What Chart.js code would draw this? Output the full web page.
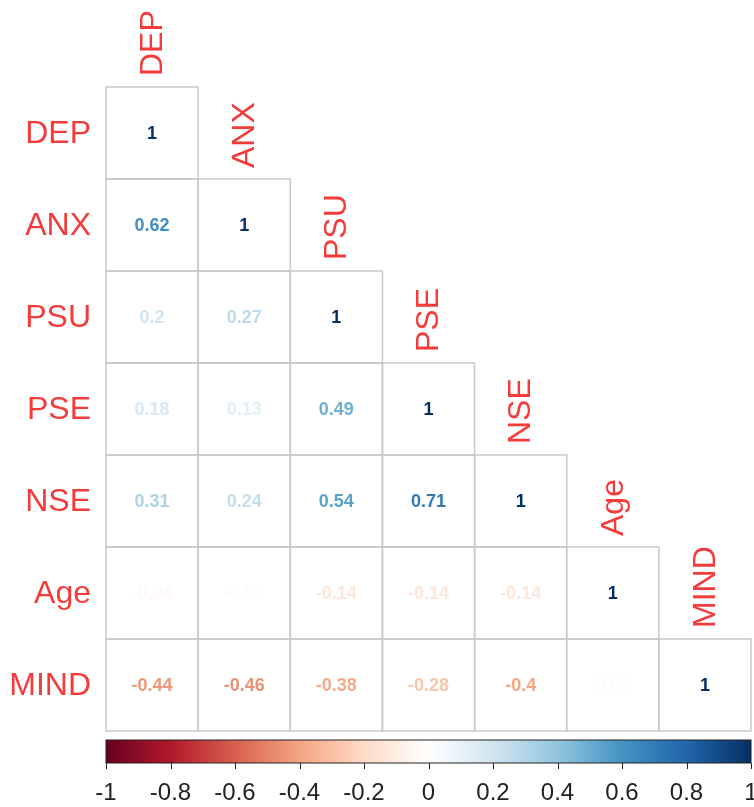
<!DOCTYPE html>
<html>
<head>
<meta charset="utf-8">
<script src="https://cdn.jsdelivr.net/npm/chart.js@4"></script>
<style>
  html, body { margin: 0; padding: 0; background: #fff; }
  #wrap { width: 754px; height: 807px; position: relative; }
</style>
</head>
<body>
<div id="wrap"><canvas id="c"></canvas></div>
<script>
// variables, in row order
const vars = ['DEP', 'ANX', 'PSU', 'PSE', 'NSE', 'Age', 'MIND'];

// lower triangle of the correlation matrix, one array per row
const rowDEP  = [1];
const rowANX  = [0.62, 1];
const rowPSU  = [0.2, 0.27, 1];
const rowPSE  = [0.18, 0.13, 0.49, 1];
const rowNSE  = [0.31, 0.24, 0.54, 0.71, 1];
const rowAge  = [-0.04, -0.03, -0.14, -0.14, -0.14, 1];
const rowMIND = [-0.44, -0.46, -0.38, -0.28, -0.4, 0.02, 1];
const rows = [rowDEP, rowANX, rowPSU, rowPSE, rowNSE, rowAge, rowMIND];

// colour bar ticks
const cbarTicks = [-1, -0.8, -0.6, -0.4, -0.2, 0, 0.2, 0.4, 0.6, 0.8, 1];

// RdBu palette (corrplot COL2), stops at -1 .. 1
const rdbu = ['#67001F', '#B2182B', '#D6604D', '#F4A582', '#FDDBC7', '#FFFFFF',
              '#D1E5F0', '#92C5DE', '#4393C3', '#2166AC', '#053061'];

const labelRed = '#f43b3b';
const gridGray = '#c9c9c9';

function hex(h) { return [1, 3, 5].map(i => parseInt(h.substr(i, 2), 16)); }
function colorAt(v) {
  const t = (Math.max(-1, Math.min(1, v)) + 1) / 2 * (rdbu.length - 1);
  const i = Math.min(rdbu.length - 2, Math.floor(t));
  const f = t - i;
  const a = hex(rdbu[i]), b = hex(rdbu[i + 1]);
  const c = a.map((x, k) => Math.round(x + (b[k] - x) * f));
  return 'rgb(' + c.join(',') + ')';
}

const points = [];
rows.forEach((r, i) => r.forEach((v, j) => points.push({ x: j, y: i, v: v })));

const corrPlugin = {
  id: 'corrCells',
  afterDatasetsDraw(chart) {
    const ctx = chart.ctx;
    const xs = chart.scales.x, ys = chart.scales.y, cb = chart.scales.cbar;
    const cw = xs.getPixelForValue(0.5) - xs.getPixelForValue(-0.5);
    const ch = ys.getPixelForValue(0.5) - ys.getPixelForValue(-0.5);
    ctx.save();
    // cells
    ctx.strokeStyle = gridGray;
    ctx.lineWidth = 1.5;
    points.forEach(p => {
      const cx = xs.getPixelForValue(p.x), cy = ys.getPixelForValue(p.y);
      ctx.strokeRect(cx - cw / 2, cy - ch / 2, cw, ch);
    });
    ctx.font = 'bold 18px "Liberation Sans", Arial, sans-serif';
    ctx.textAlign = 'center';
    ctx.textBaseline = 'middle';
    points.forEach(p => {
      const cx = xs.getPixelForValue(p.x), cy = ys.getPixelForValue(p.y);
      ctx.fillStyle = colorAt(p.v);
      ctx.fillText(String(p.v), cx, cy + 1);
    });
    // row labels
    ctx.font = '32px "Liberation Sans", Arial, sans-serif';
    ctx.fillStyle = labelRed;
    ctx.textAlign = 'right';
    vars.forEach((name, i) => {
      ctx.fillText(name, xs.getPixelForValue(-0.5) - 15, ys.getPixelForValue(i) + 1);
    });
    // column labels, rotated above the diagonal
    ctx.textAlign = 'left';
    vars.forEach((name, i) => {
      const cx = xs.getPixelForValue(i);
      const top = ys.getPixelForValue(i - 0.5) - 11;
      ctx.save();
      ctx.translate(cx + 1, top);
      ctx.rotate(-Math.PI / 2);
      ctx.fillText(name, 0, 0);
      ctx.restore();
    });
    // colour bar
    const x0 = cb.getPixelForValue(-1), x1 = cb.getPixelForValue(1);
    const by = cb.top + 9, bh = 23;
    const g = ctx.createLinearGradient(x0, 0, x1, 0);
    rdbu.forEach((c, k) => g.addColorStop(k / (rdbu.length - 1), c));
    ctx.fillStyle = g;
    ctx.fillRect(x0, by, x1 - x0, bh);
    ctx.strokeStyle = '#222';
    ctx.lineWidth = 1;
    ctx.strokeRect(x0, by, x1 - x0, bh);
    cbarTicks.forEach(t => {
      const tx = Math.round(cb.getPixelForValue(t)) + 0.5;
      ctx.beginPath();
      ctx.moveTo(tx, by + bh);
      ctx.lineTo(tx, by + bh + 6);
      ctx.stroke();
    });
    ctx.restore();
  }
};

new Chart(document.getElementById('c'), {
  type: 'scatter',
  data: { datasets: [{ data: points, pointRadius: 0, pointHoverRadius: 0 }] },
  options: {
    responsive: true, maintainAspectRatio: false, animation: false,
    layout: { padding: { left: 106, top: 87, right: 3, bottom: 0 } },
    plugins: { legend: { display: false }, tooltip: { enabled: false } },
    scales: {
      x: { type: 'linear', min: -0.5, max: 6.5, display: false },
      y: { type: 'linear', min: -0.5, max: 6.5, reverse: true, display: false },
      cbar: {
        type: 'linear', axis: 'x', position: 'bottom', min: -1, max: 1,
        grid: { display: false }, border: { display: false },
        afterBuildTicks: s => { s.ticks = cbarTicks.map(v => ({ value: v })); },
        afterFit: s => { s.height = 76; s.paddingLeft = 0; s.paddingRight = 0; },
        ticks: {
          color: '#222', padding: 40, maxRotation: 0, autoSkip: false,
          font: { family: '"Liberation Sans Narrow", "Liberation Sans", Arial', size: 24 },
          callback: v => String(Number(v.toFixed(1)))
        }
      }
    }
  },
  plugins: [corrPlugin]
});
</script>
</body>
</html>
